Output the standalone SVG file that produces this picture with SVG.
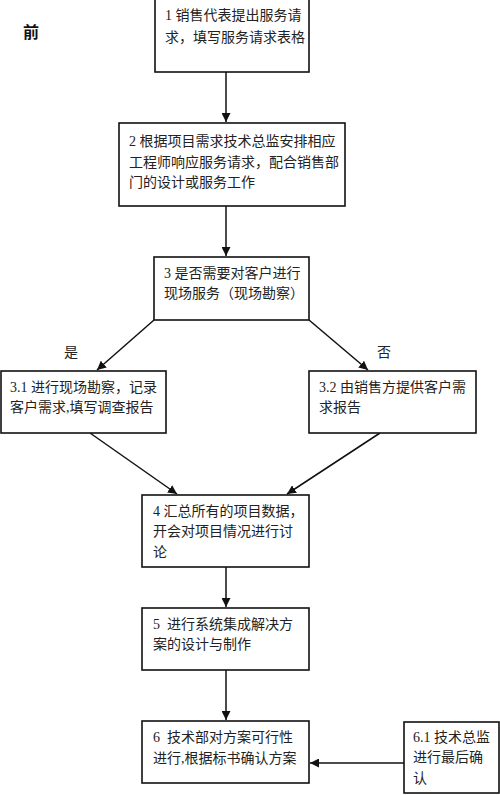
<svg xmlns="http://www.w3.org/2000/svg" width="500" height="795" viewBox="0 0 500 795">
<defs>
<style>
.box{fill:#fff;stroke:#111;stroke-width:1.6}
.t{font-family:"Liberation Serif","Noto Sans CJK SC",serif;font-size:14px;fill:#222}
.edge{stroke:#111;stroke-width:1.5;fill:none}
.title{font-family:"Noto Sans CJK SC",sans-serif;font-size:16px;font-weight:bold;fill:#111}
</style>
<marker id="ah" viewBox="0 0 10 10" refX="10" refY="5" markerWidth="9" markerHeight="9" markerUnits="userSpaceOnUse" orient="auto">
<path d="M0,0 L10,5 L0,10 z" fill="#111"/>
</marker>
</defs>
<rect width="500" height="795" fill="#fff"/>
<text class="title" x="23" y="38">前</text>
<g id="connectors">
<line class="edge" x1="226" y1="72" x2="226" y2="122" marker-end="url(#ah)"/>
<line class="edge" x1="226" y1="206" x2="226" y2="256" marker-end="url(#ah)"/>
<line class="edge" x1="154" y1="320" x2="97" y2="370" marker-end="url(#ah)"/>
<line class="edge" x1="309" y1="320" x2="368" y2="370" marker-end="url(#ah)"/>
<line class="edge" x1="90" y1="433" x2="177" y2="494" marker-end="url(#ah)"/>
<line class="edge" x1="380" y1="433" x2="287" y2="494" marker-end="url(#ah)"/>
<line class="edge" x1="226" y1="567" x2="226" y2="607" marker-end="url(#ah)"/>
<line class="edge" x1="226" y1="670" x2="226" y2="720" marker-end="url(#ah)"/>
<line class="edge" x1="404" y1="763" x2="310" y2="763" marker-end="url(#ah)"/>
<text class="t" x="64" y="357">是</text>
<text class="t" x="377" y="357">否</text>
</g>
<g id="n1">
<rect class="box" x="155" y="-2" width="154" height="74"/>
<text class="t" x="165" y="20">1 销售代表提出服务请</text>
<text class="t" x="165" y="42">求，填写服务请求表格</text>
</g>
<g id="n2">
<rect class="box" x="119" y="123" width="226" height="83"/>
<text class="t" x="129" y="146">2 根据项目需求技术总监安排相应</text>
<text class="t" x="129" y="167">工程师响应服务请求，配合销售部</text>
<text class="t" x="129" y="187">门的设计或服务工作</text>
</g>
<g id="n3">
<rect class="box" x="154" y="257" width="155" height="63"/>
<text class="t" x="164" y="278">3 是否需要对客户进行</text>
<text class="t" x="164" y="298">现场服务（现场勘察）</text>
</g>
<g id="n31">
<rect class="box" x="1" y="371" width="165" height="62"/>
<text class="t" x="10" y="392">3.1 进行现场勘察，记录</text>
<text class="t" x="10" y="412">客户需求,填写调查报告</text>
</g>
<g id="n32">
<rect class="box" x="309" y="371" width="167" height="62"/>
<text class="t" x="319" y="392">3.2 由销售方提供客户需</text>
<text class="t" x="319" y="412">求报告</text>
</g>
<g id="n4">
<rect class="box" x="142" y="495" width="167" height="72"/>
<text class="t" x="153" y="516">4 汇总所有的项目数据，</text>
<text class="t" x="153" y="536">开会对项目情况进行讨</text>
<text class="t" x="153" y="557">论</text>
</g>
<g id="n5">
<rect class="box" x="142" y="608" width="167" height="62"/>
<text class="t" x="153" y="629">5&#160; 进行系统集成解决方</text>
<text class="t" x="153" y="649">案的设计与制作</text>
</g>
<g id="n6">
<rect class="box" x="142" y="721" width="167" height="62"/>
<text class="t" x="153" y="742">6&#160; 技术部对方案可行性</text>
<text class="t" x="153" y="763">进行,根据标书确认方案</text>
</g>
<g id="n61">
<rect class="box" x="404" y="722" width="95" height="71"/>
<text class="t" x="413" y="742">6.1 技术总监</text>
<text class="t" x="413" y="762">进行最后确</text>
<text class="t" x="413" y="783">认</text>
</g>
</svg>
